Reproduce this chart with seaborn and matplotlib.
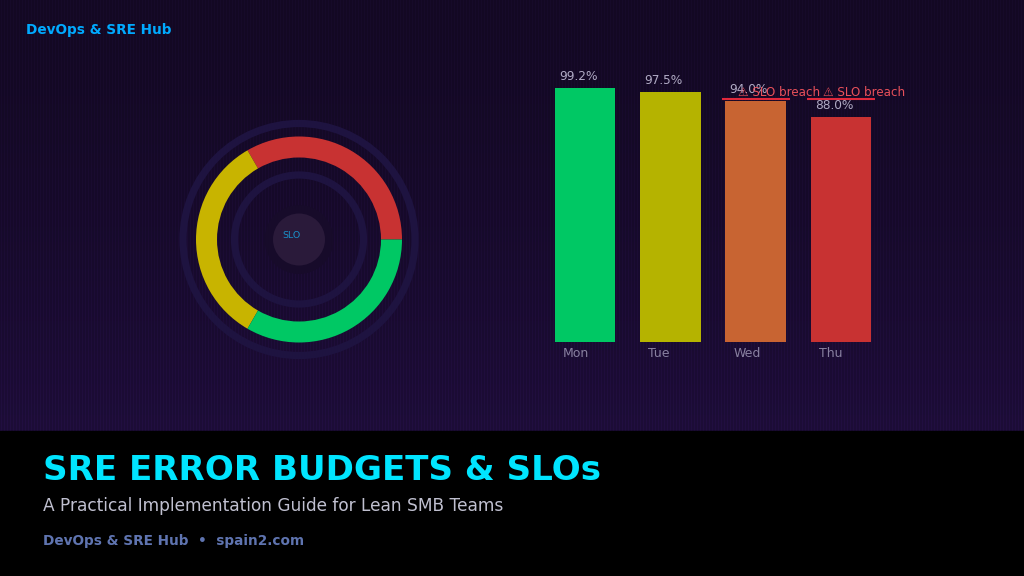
"""SRE error budget title card: SLO gauge and daily compliance bars."""
import numpy as np
import pandas as pd
import matplotlib
matplotlib.use('Agg')
import matplotlib.pyplot as plt
from matplotlib.patches import Circle, Rectangle
import seaborn as sns

W, H = 1024, 576
PANEL_H = 431

# chart data
days = ['Mon', 'Tue', 'Wed', 'Thu']
compliance = [99.2, 97.5, 94.0, 88.0]
day_colors = ['#00c864', '#b5b300', '#c86432', '#c83232']
breach_days = ['Wed', 'Thu']
slo_target = 95

gauge_shares = [1, 1, 1]
gauge_colors = ['#c83232', '#c8b400', '#00c864']

sns.set_theme(style='dark', rc={'axes.grid': False})
plt.rcParams['font.family'] = ['DejaVu Sans']

fig = plt.figure(figsize=(W / 100, H / 100), dpi=100, facecolor='black')


def pixel_axes(x0, y0, x1, y1):
    """Axes from pixel box, y measured from the top of the image."""
    return fig.add_axes([x0 / W, 1 - y1 / H, (x1 - x0) / W, (y1 - y0) / H])


# background panel, pixel coordinates
bg = pixel_axes(0, 0, W, H)
bg.set_xlim(0, W)
bg.set_ylim(H, 0)
bg.axis('off')
top = np.array([20, 9, 37]) / 255
bottom = np.array([30, 13, 58]) / 255
t = np.linspace(0, 1, PANEL_H)[:, None, None] ** 1.5
panel = np.repeat(top + (bottom - top) * t, W, axis=1)
# faint vertical scan lines
stripes = np.full(W, 0.95)
stripes[1::3] = 1.12
panel = np.clip(panel * stripes[None, :, None], 0, 1)
bg.imshow(panel, extent=(0, W, PANEL_H, 0), aspect='auto', interpolation='nearest', zorder=0)
bg.set_xlim(0, W)
bg.set_ylim(H, 0)
bg.add_patch(Rectangle((0, PANEL_H), W, H - PANEL_H, color='black', zorder=1))

bg.text(26, 30, 'DevOps & SRE Hub', color='#00aaff', fontsize=9.8, fontweight='bold', va='center')
bg.text(43, 470, 'SRE ERROR BUDGETS & SLOs', color='#00e5ff', fontsize=24.6, fontweight='bold', va='center', zorder=2)
bg.text(43, 506, 'A Practical Implementation Guide for Lean SMB Teams', color='#c0c0d0', fontsize=12.28, va='center', zorder=2)
bg.text(43, 541, 'DevOps & SRE Hub  •  spain2.com', color='#5f74b0', fontsize=9.8, fontweight='bold', va='center', zorder=2)

# gauge
gauge = pixel_axes(169, 109.5, 429, 369.5)
gauge.patch.set_alpha(0)
gauge.pie(gauge_shares, colors=gauge_colors, startangle=0, radius=103,
          wedgeprops={'width': 21, 'linewidth': 0})
gauge.set_xlim(-130, 130)
gauge.set_ylim(-130, 130)
gauge.add_patch(Circle((0, 0), 116, fill=False, ec='#1e1340', lw=5.2))
gauge.add_patch(Circle((0, 0), 64.5, fill=False, ec='#1e1340', lw=5.2))
gauge.add_patch(Circle((0, 0), 34.5, fc='#170b2a', ec='none'))
gauge.add_patch(Circle((0, 0), 26, fc='#2a1a3a', ec='none'))
gauge.text(-7.5, 4.3, 'SLO', color='#1a90c8', fontsize=6.8, ha='center', va='center')

# daily bars
df = pd.DataFrame({'day': days, 'compliance': compliance})
bars = pixel_axes(542.4, 86, 883.6, 342)
bars.patch.set_alpha(0)
sns.barplot(data=df, x='day', y='compliance', hue='day', palette=day_colors,
            width=0.71, legend=False, saturation=1, linewidth=0, ax=bars)
bars.set_xlim(-0.5, 3.5)
bars.set_ylim(0, 100)
bars.set_xlabel('')
bars.set_ylabel('')
bars.set_yticks([])
bars.set_xticks(range(len(days)), labels=[''] * len(days))
sns.despine(ax=bars, left=True, bottom=True)
bars.tick_params(axis='x', length=0)

for i, day in enumerate(days):
    bars.annotate(day, (i, 0), xytext=(-22, -5), textcoords='offset pixels',
                  color='#8880a0', fontsize=9, ha='left', va='top', annotation_clip=False)

for i, value in enumerate(compliance):
    bars.annotate(f'{value:.1f}%', (i, value), xytext=(-26, 5), textcoords='offset pixels',
                  color='#b0aac4', fontsize=8.7, ha='left', va='bottom', annotation_clip=False)

for day in breach_days:
    i = days.index(day)
    bars.plot([i - 0.4, i + 0.4], [slo_target, slo_target], color='#e0283c', lw=1.5,
              solid_capstyle='butt', clip_on=False)
    bars.annotate('⚠ SLO breach', (i, slo_target), xytext=(-18, 0), textcoords='offset pixels',
                  color='#e8505a', fontsize=8.6, ha='left', va='bottom', annotation_clip=False)

fig.savefig('out.png', dpi=100, facecolor='black')
